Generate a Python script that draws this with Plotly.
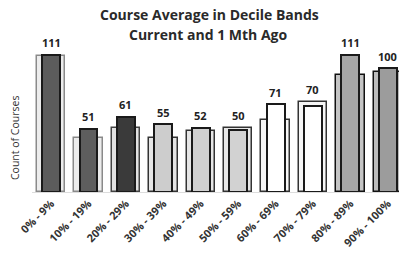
import plotly.graph_objects as go

categories = ["0% - 9%", "10% - 19%", "20% - 29%", "30% - 39%", "40% - 49%",
              "50% - 59%", "60% - 69%", "70% - 79%", "80% - 89%", "90% - 100%"]
current = [111, 51, 61, 55, 52, 50, 71, 70, 111, 100]
one_month_ago = [110, 44, 52, 44, 49, 52, 58, 73, 95, 97]

title_lines = ["Course Average in Decile Bands", "Current and 1 Mth Ago"]
y_title = "Count of Courses"

wide_fill = ["#ececec", "#ececec", "#e2e2e2", "#e6e6e6", "#e6e6e6",
             "#e8e8e8", "#f6f6f6", "#f6f6f6", "#c4c4c4", "#bcbcbc"]
wide_line = ["#8a8a8a", "#8a8a8a", "#444444", "#333333", "#333333",
             "#333333", "#333333", "#333333", "#111111", "#111111"]
narrow_fill = ["#5c5c5c", "#5e5e5e", "#3a3a3a", "#cdcdcd", "#d0d0d0",
               "#d2d2d2", "#ffffff", "#ffffff", "#a6a6a6", "#9c9c9c"]

W, H = 399, 256
ML, MR, MT, MB = 32, 0, 40, 64
plot_h = H - MT - MB

def py(pixel_y):
    return (H - MB - pixel_y) / plot_h

def px(pixel_x):
    return (pixel_x - ML) / (W - ML - MR)

fig = go.Figure()
fig.add_trace(go.Bar(
    x=categories, y=one_month_ago, width=0.76, name="1 Mth Ago",
    marker=dict(color=wide_fill, line=dict(color=wide_line, width=1.5)),
))
fig.add_trace(go.Bar(
    x=categories, y=current, width=0.48, name="Current",
    marker=dict(color=narrow_fill, line=dict(color="#1a1a1a", width=2)),
))

for c, cur, prev in zip(categories, current, one_month_ago):
    fig.add_annotation(x=c, y=max(cur, prev), text="<b>%d</b>" % cur,
                       showarrow=False, yshift=12,
                       font=dict(family="Open Sans", size=11, color="#222222"))

fig.add_annotation(xref="paper", yref="paper", x=px(209), y=py(14),
                   text="<b>%s</b>" % title_lines[0], showarrow=False,
                   xanchor="center", yanchor="middle",
                   font=dict(family="Open Sans", size=14, color="#2a2a2a"))
fig.add_annotation(xref="paper", yref="paper", x=px(208), y=py(35),
                   text="<b>%s</b>" % title_lines[1], showarrow=False,
                   xanchor="center", yanchor="middle",
                   font=dict(family="Open Sans", size=14, color="#2a2a2a"))
fig.add_annotation(xref="paper", yref="paper", x=px(15), y=py(138),
                   text=y_title, showarrow=False, textangle=-90,
                   xanchor="center", yanchor="middle",
                   font=dict(family="Open Sans", size=10.5, color="#333333"))

fig.update_layout(
    width=W, height=H,
    margin=dict(l=ML, r=MR, t=MT, b=MB, autoexpand=False),
    barmode="overlay", bargap=0,
    showlegend=False,
    plot_bgcolor="white", paper_bgcolor="white",
    xaxis=dict(range=[-0.51, 9.3], tickangle=-45, showgrid=False,
               showline=True, linecolor="#dddddd", ticks="", automargin=False,
               tickprefix="<b>", ticksuffix="</b>",
               tickfont=dict(family="Open Sans", size=11, color="#333333")),
    yaxis=dict(range=[0, 123], showgrid=False, showticklabels=False,
               zeroline=False, ticks="", automargin=False),
)

fig.write_html("out.html", config={"displayModeBar": False},
               post_script="document.body.style.margin='0px';document.body.style.overflow='hidden';")
